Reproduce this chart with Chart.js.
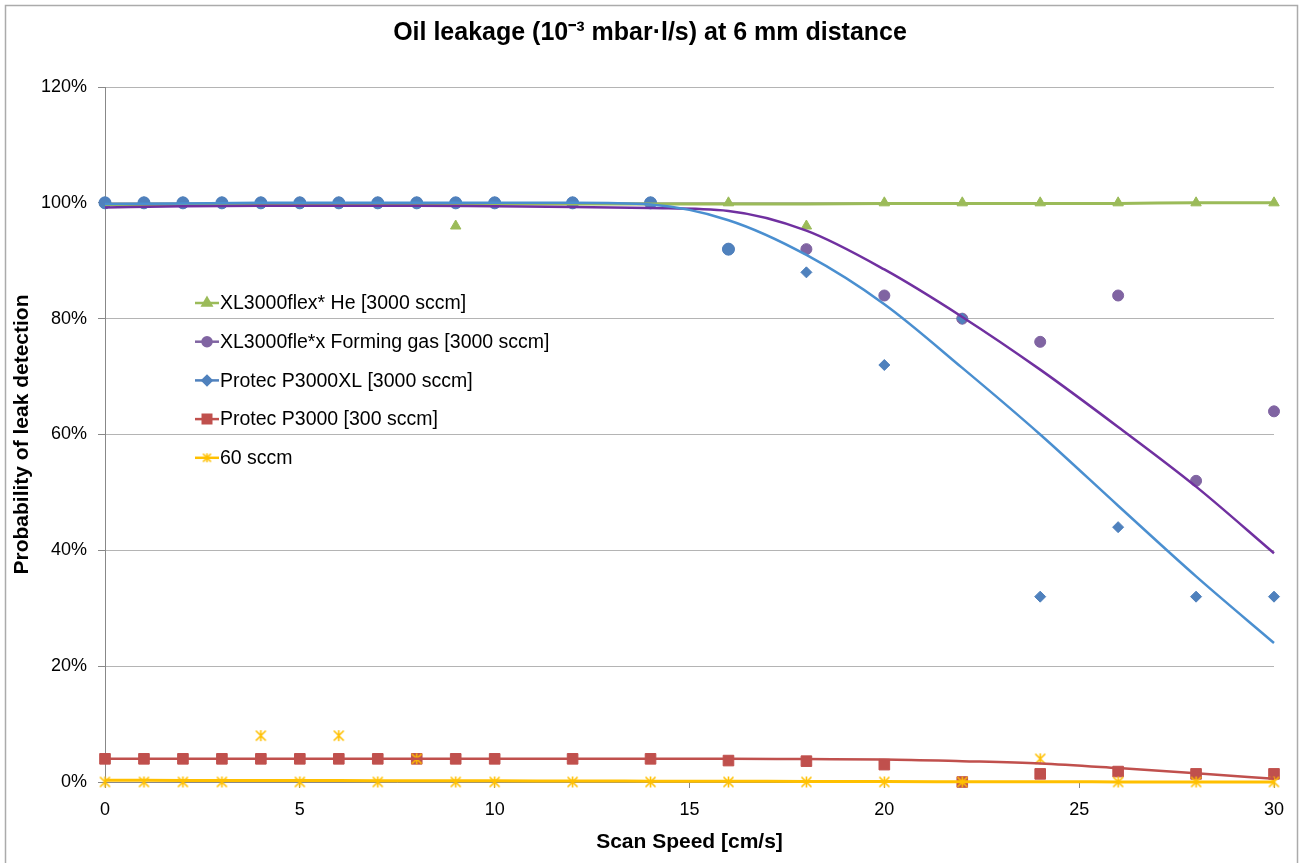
<!DOCTYPE html>
<html>
<head>
<meta charset="utf-8">
<title>Oil leakage at 6 mm distance</title>
<script src="https://cdn.jsdelivr.net/npm/chart.js@4/dist/chart.umd.min.js"></script>
<style>
  body { margin: 0; background: #fff; }
  canvas { display: block; }
</style>
</head>
<body>
<canvas id="leakChart" width="1300" height="863"></canvas>
<script>
// measured scan speeds [cm/s]
var speeds = [0, 1, 2, 3, 4, 5, 6, 7, 8, 9, 10, 12, 14, 16, 18, 20, 22, 24, 26, 28, 30];

// probability of leak detection [%], one value per speed
var heValues      = [100, 100, 100, 100, 100, 100, 100, 100, 100, 96, 100, 100, 100, 100, 96, 100, 100, 100, 100, 100, 100];
var formingValues = [100, 100, 100, 100, 100, 100, 100, 100, 100, 100, 100, 100, 100, 92, 92, 84, 80, 76, 84, 52, 64];
var p3000xlValues = [100, 100, 100, 100, 100, 100, 100, 100, 100, 100, 100, 100, 100, 92, 88, 72, 80, 32, 44, 32, 32];
var p3000Values   = [4, 4, 4, 4, 4, 4, 4, 4, 4, 4, 4, 4, 4, 3.7, 3.6, 3, 0, 1.4, 1.8, 1.4, 1.4];
var sccm60Values  = [0, 0, 0, 0, 8, 0, 8, 0, 4, 0, 0, 0, 0, 0, 0, 0, 0, 4, 0, 0, 0];

// trend lines, every 2 cm/s
var trendSpeeds   = [0, 2, 4, 6, 8, 10, 12, 14, 16, 18, 20, 22, 24, 26, 28, 30];
var heTrend       = [99.7, 99.7, 99.7, 99.7, 99.8, 99.8, 99.8, 99.8, 99.8, 99.8, 99.9, 99.9, 99.9, 99.9, 100, 100];
var formingTrend  = [99.2, 99.4, 99.5, 99.5, 99.5, 99.4, 99.3, 99.1, 98.6, 95.2, 88.5, 80.3, 71.2, 61.3, 51, 39.5];
var p3000xlTrend  = [99.8, 99.9, 100, 100, 100, 100, 100, 99.7, 97, 91, 82.5, 71.5, 60, 47.7, 35.5, 24];
var p3000Trend    = [4, 4, 4, 4, 4, 4, 4, 4, 4, 3.95, 3.9, 3.6, 3.2, 2.4, 1.5, 0.55];
var sccm60Trend   = [0.3, 0.28, 0.26, 0.24, 0.22, 0.2, 0.18, 0.15, 0.12, 0.1, 0.07, 0.05, 0.03, 0.02, 0.01, 0];

var xTicks = [0, 5, 10, 15, 20, 25, 30];
var yTicks = [0, 20, 40, 60, 80, 100, 120];

var seriesNames = [
  'XL3000flex* He [3000 sccm]',
  'XL3000fle*x Forming gas [3000 sccm]',
  'Protec P3000XL [3000 sccm]',
  'Protec P3000 [300 sccm]',
  '60 sccm'
];

var FONT = '"Liberation Sans", Arial, sans-serif';

function toPoints(xs, ys) {
  return xs.map(function (x, i) { return {x: x, y: ys[i]}; });
}

// Excel style star marker: an x with a vertical bar
function makeStar(color, size) {
  var cv = document.createElement('canvas');
  cv.width = size;
  cv.height = size;
  var c = cv.getContext('2d');
  var m = size / 2, r = size / 2 - 1.5;
  c.strokeStyle = color;
  c.lineWidth = 1.6;
  c.beginPath();
  c.moveTo(m - r, m - r); c.lineTo(m + r, m + r);
  c.moveTo(m + r, m - r); c.lineTo(m - r, m + r);
  c.moveTo(m, m - r - 0.5); c.lineTo(m, m + r + 0.5);
  c.stroke();
  return cv;
}
var starMark = makeStar('#FFC000', 13);

function markerSet(label, values, color, style, radius, order) {
  return {
    label: label,
    data: toPoints(speeds, values),
    showLine: false,
    clip: 12,
    pointStyle: style,
    pointRadius: radius,
    pointBackgroundColor: color,
    pointBorderColor: color,
    pointBorderWidth: 1,
    order: order
  };
}

function trendSet(values, color, width, order) {
  return {
    label: '',
    data: toPoints(trendSpeeds, values),
    showLine: true,
    clip: 12,
    borderColor: color,
    borderWidth: width,
    pointRadius: 0,
    cubicInterpolationMode: 'monotone',
    order: order
  };
}

// blue series: round markers up to 16 cm/s, diamonds after
var blueStyle = function (ctx) { return speeds[ctx.dataIndex] <= 16 ? 'circle' : 'rectRot'; };
var blueRadius = function (ctx) { return speeds[ctx.dataIndex] <= 16 ? 6 : 5.5; };

var legendItems = [
  {label: seriesNames[0], color: '#9BBB59', style: 'triangle', radius: 5},
  {label: seriesNames[1], color: '#8064A2', style: 'circle', radius: 4.5},
  {label: seriesNames[2], color: '#4F81BD', style: 'rectRot', radius: 4.5},
  {label: seriesNames[3], color: '#C0504D', style: 'rect', radius: 6},
  {label: seriesNames[4], color: '#FFC000', style: makeStar('#FFC000', 11), radius: 5}
];

var pageFrame = {
  id: 'pageFrame',
  beforeDraw: function (chart) {
    var c = chart.ctx;
    c.save();
    c.fillStyle = '#fff';
    c.fillRect(0, 0, chart.width, chart.height);
    c.strokeStyle = '#ABABAB';
    c.lineWidth = 1.5;
    c.strokeRect(5.5, 5.5, 1292, 880);
    c.restore();
  }
};

// legend sits inside the plot, like the Excel original
var insideLegend = {
  id: 'insideLegend',
  afterDatasetsDraw: function (chart) {
    var c = chart.ctx;
    var x0 = 195, y0 = 303, step = 38.7;
    c.save();
    c.font = '19.5px ' + FONT;
    c.textBaseline = 'middle';
    legendItems.forEach(function (it, i) {
      var y = y0 + i * step;
      c.strokeStyle = it.color;
      c.lineWidth = 2.5;
      c.beginPath();
      c.moveTo(x0, y);
      c.lineTo(x0 + 24, y);
      c.stroke();
      c.fillStyle = it.color;
      Chart.helpers.drawPoint(c, {pointStyle: it.style, radius: it.radius, rotation: 0, borderWidth: 1}, x0 + 12, y);
      c.fillStyle = '#000';
      c.fillText(it.label, x0 + 25, y + 1);
    });
    c.restore();
  }
};

var ctx = document.getElementById('leakChart');
var chart = new Chart(ctx, {
  type: 'scatter',
  data: {
    datasets: [
      markerSet(seriesNames[0], heValues, '#9BBB59', 'triangle', 6, 5),
      markerSet(seriesNames[1], formingValues, '#8064A2', 'circle', 5.5, 4),
      markerSet(seriesNames[2], p3000xlValues, '#4F81BD', blueStyle, blueRadius, 3),
      markerSet(seriesNames[3], p3000Values, '#C0504D', 'rect', 7.5, 2),
      markerSet(seriesNames[4], sccm60Values, '#FFC000', starMark, 6, 1),
      trendSet(heTrend, '#9BBB59', 3, -1),
      trendSet(formingTrend, '#7030A0', 2.5, -2),
      trendSet(p3000xlTrend, '#4A8FD0', 2.5, -3),
      trendSet(p3000Trend, '#C0504D', 2.5, -4),
      trendSet(sccm60Trend, '#FFC000', 3, -5)
    ]
  },
  options: {
    responsive: false,
    animation: false,
    layout: {padding: 0},
    plugins: {
      legend: {display: false},
      tooltip: {enabled: false},
      title: {
        display: true,
        text: 'Oil leakage (10⁻³ mbar·l/s) at 6 mm distance',
        color: '#000',
        font: {family: FONT, size: 25, weight: 'bold', lineHeight: 1.2},
        padding: {top: 18, bottom: 39}
      }
    },
    scales: {
      x: {
        type: 'linear',
        min: 0,
        max: 30,
        afterFit: function (s) { s.height = 81; },
        afterBuildTicks: function (s) { s.ticks = xTicks.map(function (v) { return {value: v}; }); },
        ticks: {color: '#000', padding: 11, font: {family: FONT, size: 18}},
        grid: {drawOnChartArea: false, drawTicks: true, tickLength: 6, color: '#888'},
        border: {display: true, color: '#888', width: 1},
        title: {
          display: true,
          text: 'Scan Speed [cm/s]',
          color: '#000',
          font: {family: FONT, size: 21, weight: 'bold', lineHeight: 1.2},
          padding: {top: 0, bottom: 8.4}
        }
      },
      y: {
        type: 'linear',
        min: 0,
        max: 120,
        afterFit: function (s) { s.width = 105; },
        afterBuildTicks: function (s) { s.ticks = yTicks.map(function (v) { return {value: v}; }); },
        ticks: {
          color: '#000',
          padding: 11,
          font: {family: FONT, size: 18},
          callback: function (v) { return v + '%'; }
        },
        grid: {color: '#B4B4B4', lineWidth: 1, tickLength: 7, tickColor: '#888'},
        border: {display: true, color: '#888', width: 1},
        title: {
          display: true,
          text: 'Probability of leak detection',
          color: '#000',
          font: {family: FONT, size: 21, weight: 'bold', lineHeight: 1.2},
          padding: {top: 9.4, bottom: 0}
        }
      },
      // empty strip on the right so the title stays centred on the page
      rightGap: {
        type: 'linear',
        position: 'right',
        display: true,
        afterFit: function (s) { s.width = 26; },
        ticks: {display: false},
        grid: {display: false, drawTicks: false},
        border: {display: false}
      }
    }
  },
  plugins: [pageFrame, insideLegend]
});
</script>
</body>
</html>
